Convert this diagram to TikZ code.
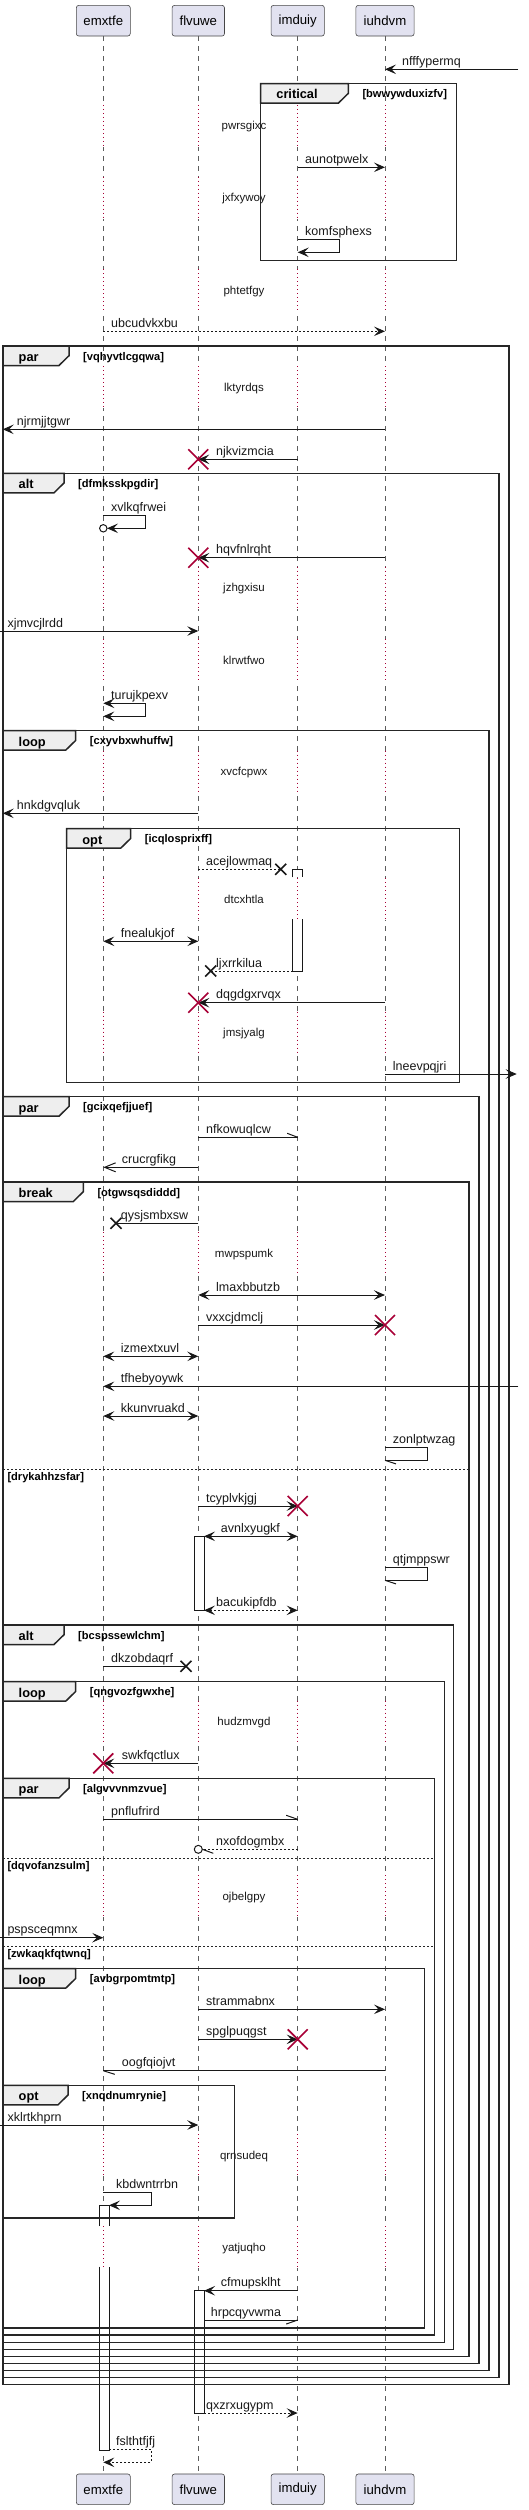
\documentclass[tikz,border=0pt]{standalone}
\usepackage{fontspec}
\setmainfont{Liberation Sans}
\usetikzlibrary{arrows.meta,calc}
\definecolor{ink}{HTML}{181818}
\definecolor{crim}{HTML}{A80036}
\definecolor{partfill}{HTML}{E2E2F0}
\definecolor{tabfill}{HTML}{EEEEEE}
\tikzset{
 lifeline/.style={ink!70, line width=0.8pt, dash pattern=on 5pt off 5pt},
 delaydot/.style={crim, line width=0.9pt, dash pattern=on 1pt off 3pt},
 part/.style={draw=ink!80, fill=partfill, line width=0.6pt, rounded corners=2.5pt, minimum height=30.7pt, font=\fontsize{13.2}{16}\selectfont, inner sep=0},
 msg/.style={ink, line width=1pt, -{Stealth[length=11pt,width=9.5pt,inset=4.5pt]}},
 dmsg/.style={msg, dash pattern=on 2pt off 2pt},
 bmsg/.style={ink, line width=1pt, {Stealth[length=11pt,width=9.5pt,inset=4.5pt]}-{Stealth[length=11pt,width=9.5pt,inset=4.5pt]}},
 dbmsg/.style={bmsg, dash pattern=on 2pt off 2pt},
 omsg/.style={ink, line width=1pt, -{Straight Barb[length=11pt,width=9pt]}},
 pline/.style={ink, line width=1pt},
 dline/.style={ink, line width=1pt, dash pattern=on 2pt off 2pt},
 mlab/.style={anchor=base west, inner sep=0, font=\fontsize{12.5}{14}\selectfont, text=ink},
 dlab/.style={anchor=base, inner sep=0, font=\fontsize{11.5}{13}\selectfont, text=ink},
 frame/.style={draw=black!85, line width=1.5pt},
 tab/.style={draw=black!85, fill=tabfill, line width=1.5pt},
 glab/.style={anchor=base west, inner sep=0, font=\bfseries\fontsize{12.8}{15}\selectfont},
 gcond/.style={anchor=base west, inner sep=0, font=\bfseries\fontsize{11.1}{13}\selectfont},
 elseline/.style={black!85, line width=0.8pt, dash pattern=on 2pt off 2pt},
 act/.style={draw=ink, fill=white, line width=1pt},
 redx/.style={crim, line width=1.6pt},
 blkx/.style={ink, line width=1.6pt},
}
\newcommand\dly[3]{%
  \foreach \xx in {103.3,198.3,297.7,385}{
    \fill[white] (\xx-1.6,#2-21) rectangle (\xx+1.6,#2+21);
    \draw[delaydot] (\xx,#2-21) -- (\xx,#2+21);
  }
  \node[dlab] (#1) at (244,#2+4) {#3};
}
\newcommand\grp[8]{%
  \draw[frame] (#2,#3) rectangle (#4,#5);
  \draw[tab] (#2,#3) -- (#6,#3) -- (#6,#3+9.7) -- (#6-10,#3+19.5) -- (#2,#3+19.5) -- cycle;
  \node[glab] (#1l) at (#2+15.5,#3+15.3) {#7};
  \node[gcond] (#1c) at (#6+14,#3+14) {#8};
}
\newcommand\els[5]{%
  \draw[elseline] (#2,#4) -- (#3,#4);
  \node[gcond] (#1) at (#2+4.3,#4+11) {#5};
}
\newcommand\msg[7]{%
  \coordinate (#1a) at (#3,#5); \coordinate (#1b) at (#4,#5);
  \draw[#2] (#1a) -- (#1b);
  \node[mlab] (#1t) at (#6,#5-4) {#7};
}
\newcommand\selfm[9]{%
  \coordinate (#1a) at (#3,#5); \coordinate (#1b) at (#7,#6);
  \draw[#2] (#1a) -- (#4,#5) -- (#4,#6) -- (#1b);
  \node[mlab] (#1t) at (#8,#5-4) {#9};
}
\newcommand\rx[3]{%
  \coordinate (#1) at (#2,#3);
  \draw[redx] ($(#1)+(-10,-10)$) -- ($(#1)+(10,10)$) ($(#1)+(-10,10)$) -- ($(#1)+(10,-10)$);
}
\newcommand\bx[3]{%
  \coordinate (#1) at (#2,#3);
  \draw[blkx] ($(#1)+(-5.5,-5.5)$) -- ($(#1)+(5.5,5.5)$) ($(#1)+(-5.5,5.5)$) -- ($(#1)+(5.5,-5.5)$);
}
\begin{document}
\begin{tikzpicture}[x=1pt,y=-1pt]
\useasboundingbox (0,0) rectangle (529,2510);
% participants
\node[part, minimum width=54pt] (pEt) at (103.3,20.7) {emxtfe};
\node[part, minimum width=52.4pt] (pFt) at (198.3,20.7) {flvuwe};
\node[part, minimum width=53.3pt] (pIt) at (297.7,20.7) {imduiy};
\node[part, minimum width=58.3pt] (pUt) at (385,20.7) {iuhdvm};
\node[part, minimum width=54pt] (pEb) at (103.3,2489.3) {emxtfe};
\node[part, minimum width=52.4pt] (pFb) at (198.3,2489.3) {flvuwe};
\node[part, minimum width=53.3pt] (pIb) at (297.7,2489.3) {imduiy};
\node[part, minimum width=58.3pt] (pUb) at (385,2489.3) {iuhdvm};
\draw[lifeline] (pEt.south) -- (pEb.north);
\draw[lifeline] (pFt.south) -- (pFb.north);
\draw[lifeline] (pIt.south) -- (pIb.north);
\draw[lifeline] (pUt.south) -- (pUb.north);
% delays
\dly{d1}{126}{pwrsgixc}
\dly{d2}{197.7}{jxfxywoy}
\dly{d3}{290}{phtetfgy}
\dly{d4}{387.3}{lktyrdqs}
\dly{d5}{587.7}{jzhgxisu}
\dly{d6}{660}{klrwtfwo}
\dly{d7}{771.7}{xvcfcpwx}
\dly{d8}{899.3}{dtcxhtla}
\dly{d9}{1032.7}{jmsjyalg}
\dly{d10}{1253.3}{mwpspumk}
\dly{d11}{1721.7}{hudzmvgd}
\dly{d12}{1896}{ojbelgpy}
\dly{d13}{2155.3}{qrnsudeq}
\dly{d14}{2247.3}{yatjuqho}
% activations
\fill[white] (292.7,869.3) rectangle (302.7,877.3);
\fill[white] (292.7,919.3) rectangle (302.7,971);
\draw[ink, line width=1pt] (292.7,877.3) -- (292.7,869.3) -- (302.7,869.3) -- (302.7,877.3);
\draw[ink, line width=1pt] (292.7,919.3) -- (292.7,971) -- (302.7,971) -- (302.7,919.3);
\draw[act] (194,1536.3) rectangle (204,1610.3);
\fill[white] (99,2205.3) rectangle (109,2226);
\fill[white] (99,2266.7) rectangle (109,2450);
\draw[ink, line width=1pt] (99,2226) -- (99,2205.3) -- (109,2205.3) -- (109,2226);
\draw[ink, line width=1pt] (99,2266.7) -- (99,2450) -- (109,2450) -- (109,2266.7);
\draw[act] (194,2290.7) rectangle (204,2413);
% groups
\grp{g1}{260.7}{83.7}{456.7}{260.3}{348.3}{critical}{[bwwywduxizfv]}
\grp{g2}{3}{346}{509}{2384.7}{69}{par}{[vqhyvtlcgqwa]}
\grp{g3}{3}{473.3}{499}{2377.7}{64}{alt}{[dfmksskpgdir]}
\grp{g4}{3}{730.7}{489}{2370.7}{75.7}{loop}{[cxyvbxwhuffw]}
\grp{g5}{66.7}{828.7}{459.3}{1082.3}{130.7}{opt}{[icqlosprixff]}
\grp{g6}{3}{1096.7}{479}{2363.3}{69}{par}{[gcixqefjjuef]}
\grp{g7}{3}{1182}{469}{2356.7}{83.3}{break}{[otgwsqsdiddd]}
\els{e1}{3}{469}{1469.3}{[drykahhzsfar]}
\grp{g8}{3}{1625}{453.7}{2349.3}{64}{alt}{[bcspssewlchm]}
\grp{g9}{3}{1681.7}{444.3}{2342.3}{75.7}{loop}{[qngvozfgwxhe]}
\grp{g10}{3}{1778.3}{434.3}{2335}{69}{par}{[algvvvnmzvue]}
\els{e2}{3}{434.3}{1858.3}{[dqvofanzsulm]}
\els{e3}{3}{434.3}{1946.3}{[zwkaqkfqtwnq]}
\grp{g11}{3}{1968.7}{424.3}{2328}{75.7}{loop}{[avbgrpomtmtp]}
\grp{g12}{3}{2085.3}{234.7}{2218}{68}{opt}{[xnqdnumrynie]}
% messages
\msg{m1}{msg}{518.3}{385}{69.3}{402}{nfffypermq}
\msg{m2}{msg}{297.7}{385}{167.3}{305}{aunotpwelx}
\selfm{m3}{msg}{297.7}{339.3}{239.3}{252.3}{297.7}{305}{komfsphexs}
\msg{m4}{dmsg}{103.3}{385}{331.3}{111}{ubcudvkxbu}
\msg{m5}{msg}{385}{2.7}{429.3}{16.7}{njrmjjtgwr}
\msg{m6}{msg}{297.7}{198.3}{459.3}{216}{njkvizmcia}
\rx{x6}{198.3}{459.3}
\selfm{m7}{msg}{103.3}{145.7}{515.7}{528.3}{107}{111}{xvlkqfrwei}
\draw[ink, line width=1pt, fill=white] (103.3,528.3) circle[radius=3.7];
\msg{m8}{msg}{385}{198.3}{557.7}{216}{hqvfnlrqht}
\rx{x8}{198.3}{557.7}
\msg{m9}{msg}{0}{198.3}{631}{7.3}{xjmvcjlrdd}
\selfm{m10}{bmsg}{103.3}{145.7}{703.3}{716.3}{103.3}{111}{turujkpexv}
\msg{m11}{msg}{198.3}{2.7}{813.3}{16.7}{hnkdgvqluk}
\msg{m12}{dline}{198.3}{280.7}{869.3}{206}{acejlowmaq}
\bx{x12}{280.7}{869.3}
\msg{m13}{bmsg}{103.3}{198.3}{941.3}{120.7}{fnealukjof}
\msg{m14}{dline}{292.7}{210.7}{971}{216}{ljxrrkilua}
\bx{x14}{210.7}{971}
\msg{m15}{msg}{385}{198.3}{1002.7}{216}{dqgdgxrvqx}
\rx{x15}{198.3}{1002.7}
\msg{m16}{msg}{385}{516.7}{1074}{392.7}{lneevpqjri}
\msg{m17}{pline}{198.3}{297.7}{1137.3}{206}{nfkowuqlcw}
\draw[pline] (m17b) -- ++(-10.5,-4);
\msg{m18}{omsg}{198.3}{103.3}{1167.3}{121.7}{crucrgfikg}
\msg{m19}{pline}{198.3}{116}{1223.3}{120.7}{qysjsmbxsw}
\bx{x19}{116}{1223.3}
\msg{m20}{bmsg}{198.3}{385}{1295}{216}{lmaxbbutzb}
\msg{m21}{msg}{198.3}{385}{1325}{206}{vxxcjdmclj}
\rx{x21}{385}{1325}
\msg{m22}{bmsg}{103.3}{198.3}{1356.3}{120.7}{izmextxuvl}
\msg{m23}{msg}{518.3}{103.3}{1386.3}{120.7}{tfhebyoywk}
\msg{m24}{bmsg}{103.3}{198.3}{1416}{120.7}{kkunvruakd}
\selfm{m25}{pline}{385}{427.3}{1447.7}{1460.3}{385}{392.7}{zonlptwzag}
\draw[pline] (m25b) -- ++(11,3.6);
\msg{m26}{msg}{198.3}{297.7}{1506}{206}{tcyplvkjgj}
\rx{x26}{297.7}{1506}
\msg{m27}{bmsg}{204}{297.7}{1536.3}{220.7}{avnlxyugkf}
\selfm{m28}{pline}{385}{427.3}{1567.3}{1580.3}{385}{392.7}{qtjmppswr}
\draw[pline] (m28b) -- ++(11,3.6);
\msg{m29}{dbmsg}{204}{297.7}{1610.3}{216}{bacukipfdb}
\msg{m30}{pline}{103.3}{186}{1666.3}{111}{dkzobdaqrf}
\bx{x30}{186}{1666.3}
\msg{m31}{msg}{198.3}{103.3}{1763.3}{121.7}{swkfqctlux}
\rx{x31}{103.3}{1763.3}
\msg{m32}{pline}{103.3}{297.7}{1819.3}{111}{pnflufrird}
\draw[pline] (m32b) -- ++(-11.5,-4);
\msg{m33}{dline}{297.7}{202.3}{1849.3}{216}{nxofdogmbx}
\draw[pline] (m33b) -- ++(11,4);
\draw[ink, line width=1pt, fill=white] (198.3,1849.3) circle[radius=4];
\msg{m34}{msg}{0}{103.3}{1937.7}{7.3}{pspsceqmnx}
\msg{m35}{msg}{198.3}{385}{2009.3}{206}{strammabnx}
\msg{m36}{msg}{198.3}{297.7}{2039.3}{206}{spglpuqgst}
\rx{x36}{297.7}{2039.3}
\msg{m37}{pline}{385}{103.3}{2070.7}{121.7}{oogfqiojvt}
\draw[pline] (m37b) -- ++(11.5,3.6);
\msg{m38}{msg}{0}{198.3}{2125}{7.3}{xklrtkhprn}
\selfm{m39}{msg}{103.3}{151}{2192.3}{2205.3}{109}{116}{kbdwntrrbn}
\msg{m40}{msg}{297.7}{204}{2290.7}{220.7}{cfmupsklht}
\msg{m41}{pline}{204}{297.7}{2320}{210.7}{hrpcqyvwma}
\draw[pline] (m41b) -- ++(-11.5,4);
\msg{m42}{dmsg}{204}{297.7}{2413}{206}{qxzrxugypm}
\selfm{m43}{dmsg}{109}{151}{2449.3}{2462.3}{103.3}{116}{fslthtfjfj}
\end{tikzpicture}
\end{document}
